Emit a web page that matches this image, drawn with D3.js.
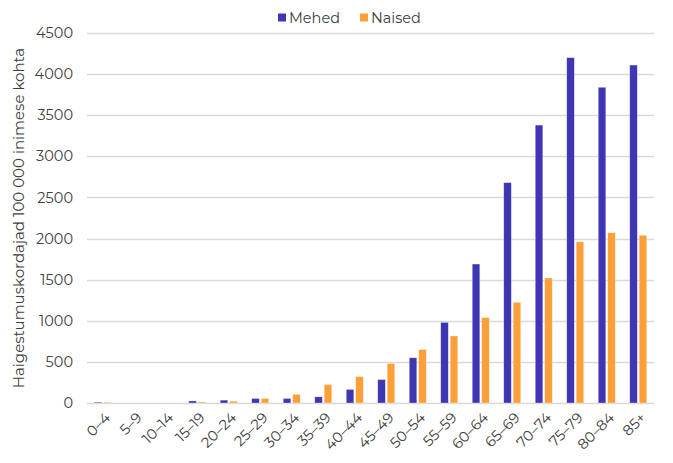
<!DOCTYPE html>
<html>
<head>
<meta charset="utf-8">
<script src="https://cdn.jsdelivr.net/npm/d3@7"></script>
<style>
  body { margin: 0; background: #fff; }
  text { font-family: Montserrat, "Noto Sans", sans-serif; fill: #404040; }
</style>
</head>
<body>
<div id="chart"></div>
<script>
let ageGroups = ['0–4', '5–9', '10–14', '15–19', '20–24', '25–29', '30–34', '35–39', '40–44',
  '45–49', '50–54', '55–59', '60–64', '65–69', '70–74', '75–79', '80–84', '85+']
let mehed = [10, 0, 0, 25, 35, 55, 55, 75, 165, 285, 550, 980, 1690, 2680, 3380, 4200, 3840, 4110]
let naised = [10, 0, 0, 12, 22, 55, 105, 225, 320, 480, 650, 815, 1040, 1225, 1520, 1960, 2070, 2040]
let yTicks = [0, 500, 1000, 1500, 2000, 2500, 3000, 3500, 4000, 4500]
let seriesNames = ['Mehed', 'Naised']
let colors = ['#3f36b3', '#ff9f38']

let margin = { top: 33, left: 87, right: 19, bottom: 60 }
let width = 673 - margin.left - margin.right
let height = 463 - margin.top - margin.bottom

let svg = d3.select('#chart')
  .append('svg')
  .attr('width', 673)
  .attr('height', 463)

let g = svg.append('g')
  .attr('transform', 'translate(' + margin.left + ',' + margin.top + ')')

let x0 = d3.scaleBand().domain(ageGroups).range([0, width]).paddingInner(0).paddingOuter(0)
let x1 = d3.scaleBand().domain(seriesNames).range([x0.bandwidth() / 2 - 8.5, x0.bandwidth() / 2 + 8.5]).paddingInner(0.2)
let y = d3.scaleLinear().domain([0, 4500]).range([height, 0])

// gridlines
g.append('g')
  .selectAll('line')
  .data(yTicks)
  .enter().append('line')
  .attr('x1', 0)
  .attr('x2', width)
  .attr('y1', d => Math.round(y(d)) + 0.5)
  .attr('y2', d => Math.round(y(d)) + 0.5)
  .attr('stroke', '#d9d9d9')
  .attr('stroke-width', 1.3)

// y labels
g.append('g')
  .selectAll('text')
  .data(yTicks)
  .enter().append('text')
  .attr('x', -14)
  .attr('y', d => y(d))
  .attr('dy', '0.35em')
  .attr('text-anchor', 'end')
  .style('font-size', '14.5px')
  .text(d => d)

let rows = ageGroups.map((a, i) => ({ age: a, values: [mehed[i], naised[i]] }))

let groups = g.append('g')
  .selectAll('g')
  .data(rows)
  .enter().append('g')
  .attr('transform', d => 'translate(' + x0(d.age) + ',0)')

groups.selectAll('rect')
  .data(d => d.values.map((v, i) => ({ key: seriesNames[i], value: v, color: colors[i] })))
  .enter().append('rect')
  .attr('x', d => x1(d.key))
  .attr('width', x1.bandwidth())
  .attr('y', d => y(d.value))
  .attr('height', d => height - y(d.value))
  .attr('fill', d => d.color)
  .attr('stroke', d => d.value > 0 ? 'rgba(255,255,255,0.5)' : 'none')
  .attr('stroke-width', 0.6)

// x labels
g.append('g')
  .selectAll('text')
  .data(ageGroups)
  .enter().append('text')
  .attr('transform', d => 'translate(' + (x0(d) + x0.bandwidth() / 2 + 5) + ',' + (height + 12) + ') rotate(-45)')
  .attr('text-anchor', 'end')
  .attr('dy', '0.35em')
  .style('font-size', '14.5px')
  .text(d => d)

// y title
svg.append('text')
  .attr('transform', 'translate(24,' + (margin.top + height / 2) + ') rotate(-90)')
  .attr('text-anchor', 'middle')
  .style('font-size', '15px')
  .text('Haigestumuskordajad 100 000 inimese kohta')

// legend
let legend = svg.append('g')
  .selectAll('g')
  .data(seriesNames)
  .enter().append('g')
  .attr('transform', (d, i) => 'translate(' + (278 + i * 82) + ',12)')

legend.append('rect')
  .attr('width', 8)
  .attr('height', 8)
  .attr('y', 1.5)
  .attr('fill', (d, i) => colors[i])

legend.append('text')
  .attr('x', 11)
  .attr('y', 5.5)
  .attr('dy', '0.35em')
  .style('font-size', '14.5px')
  .text(d => d)
</script>
</body>
</html>
